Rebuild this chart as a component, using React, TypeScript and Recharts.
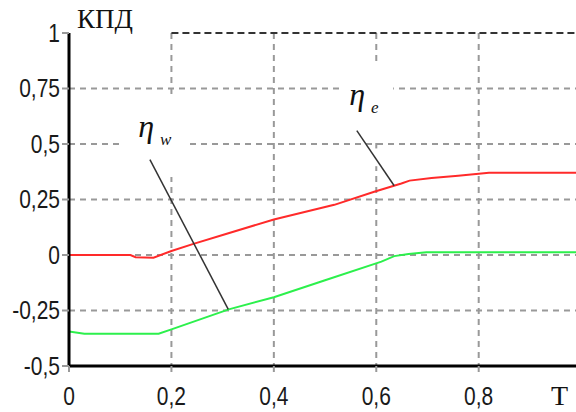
import React from 'react';
import { LineChart, Line, XAxis, YAxis, CartesianGrid, ReferenceLine, ReferenceArea, ReferenceDot } from 'recharts';

// КПД vs T
const redT = [0, 0.12, 0.13, 0.165, 0.2, 0.243, 0.3, 0.4, 0.518, 0.596, 0.649, 0.665, 0.708, 0.76, 0.82, 0.99];
const redEta = [0, 0, -0.01, -0.012, 0.018, 0.05, 0.09, 0.16, 0.226, 0.285, 0.322, 0.335, 0.347, 0.357, 0.37, 0.37];

const greenT = [0, 0.03, 0.175, 0.2, 0.312, 0.4, 0.5, 0.61, 0.635, 0.663, 0.698, 0.99];
const greenEta = [-0.345, -0.355, -0.355, -0.335, -0.245, -0.19, -0.114, -0.03, -0.005, 0.005, 0.012, 0.012];

const xTicks = [0, 0.2, 0.4, 0.6, 0.8];
const yTicks = [-0.5, -0.25, 0, 0.25, 0.5, 0.75, 1];

const redData = redT.map((t, i) => ({ t, eta: redEta[i] }));
const greenData = greenT.map((t, i) => ({ t, eta: greenEta[i] }));

const fmt = (v: number) => String(v).replace('.', ',');
const sans = '"Liberation Sans", Arial, sans-serif';
const serif = '"Liberation Serif", "Times New Roman", serif';

// narrow-looking tick text (squeezed horizontally)
const NarrowTick = (anchor: 'end' | 'middle', dy: string) => (p: any) => (
  <g transform={`translate(${p.x},${p.y}) scale(0.84,1)`}>
    <text x={0} y={0} dy={dy} textAnchor={anchor} fontFamily={sans} fontSize={25} fill="#1a1a1a">
      {fmt(p.payload.value)}
    </text>
  </g>
);

const EtaLabel = (sub: string) => (props: any) => (
  <text x={props.cx} y={props.cy} fontFamily={serif} fill="#111">
    <tspan fontSize={32} fontStyle="italic">η</tspan>
    <tspan fontSize={17} fontStyle="italic" dx={6} dy={8}>{sub}</tspan>
  </text>
);

export default function App() {
  return (
    <div style={{ position: 'absolute', left: 0, top: 0, width: 576, height: 412, background: '#fff' }}>
      <LineChart width={576} height={412} margin={{ top: 33, right: 0, bottom: 0, left: 0 }} style={{ overflow: 'visible' }}>
        <CartesianGrid
          stroke="#999"
          strokeWidth={2}
          strokeDasharray="6 5"
          horizontalValues={[-0.25, 0, 0.25, 0.5, 0.75]}
          verticalValues={[0.2, 0.4, 0.6, 0.8]}
        />
        <XAxis
          dataKey="t"
          type="number"
          domain={[0, 0.99]}
          allowDataOverflow
          ticks={xTicks}
          height={46}
          axisLine={{ stroke: '#000', strokeWidth: 3 }}
          tickLine={{ stroke: '#999', strokeWidth: 2 }}
          tickSize={6}
          tickMargin={15}
          tick={NarrowTick('middle', '0.71em')}
          label={{
            content: (p: any) => (
              <text x={p.viewBox.x + p.viewBox.width - 8} y={405} textAnchor="end" fontFamily={serif} fontSize={28} fill="#111">T</text>
            ),
          }}
        />
        <YAxis
          type="number"
          domain={[-0.5, 1]}
          ticks={yTicks}
          width={69}
          axisLine={{ stroke: '#000', strokeWidth: 3 }}
          tickLine={{ stroke: '#999', strokeWidth: 2 }}
          tickSize={7}
          tick={NarrowTick('end', '0.355em')}
          label={{
            content: (p: any) => (
              <text x={p.viewBox.x + p.viewBox.width + 8} y={p.viewBox.y - 5} fontFamily={serif} fontSize={27} fill="#111">КПД</text>
            ),
          }}
        />
        <ReferenceLine segment={[{ x: 0.2, y: 1 }, { x: 0.99, y: 1 }]} stroke="#333" strokeWidth={2} strokeDasharray="7 4" ifOverflow="visible" />

        {/* white boxes behind the labels */}
        <ReferenceArea x1={0.105} x2={0.232} y1={0.351} y2={0.707} fill="#fff" fillOpacity={1} stroke="none" ifOverflow="visible" />
        <ReferenceArea x1={0.533} x2={0.633} y1={0.608} y2={0.856} fill="#fff" fillOpacity={1} stroke="none" ifOverflow="visible" />
        <ReferenceArea x1={0.59} x2={0.61} y1={0.52} y2={0.608} fill="#fff" fillOpacity={1} stroke="none" ifOverflow="visible" />
        <ReferenceArea x1={0.59} x2={0.61} y1={0.4} y2={0.48} fill="#fff" fillOpacity={1} stroke="none" ifOverflow="visible" />

        <Line data={redData} dataKey="eta" type="linear" stroke="#ff2a2a" strokeWidth={2} dot={false} isAnimationActive={false} />
        <Line data={greenData} dataKey="eta" type="linear" stroke="#2cf04c" strokeWidth={2} dot={false} isAnimationActive={false} />

        <ReferenceLine segment={[{ x: 0.158, y: 0.43 }, { x: 0.311, y: -0.245 }]} stroke="#333" strokeWidth={1.5} ifOverflow="visible" />
        <ReferenceLine segment={[{ x: 0.562, y: 0.56 }, { x: 0.635, y: 0.312 }]} stroke="#333" strokeWidth={1.5} ifOverflow="visible" />

        <ReferenceDot x={0.135} y={0.53} r={0} ifOverflow="visible" shape={EtaLabel('w')} />
        <ReferenceDot x={0.547} y={0.676} r={0} ifOverflow="visible" shape={EtaLabel('e')} />
      </LineChart>
    </div>
  );
}
